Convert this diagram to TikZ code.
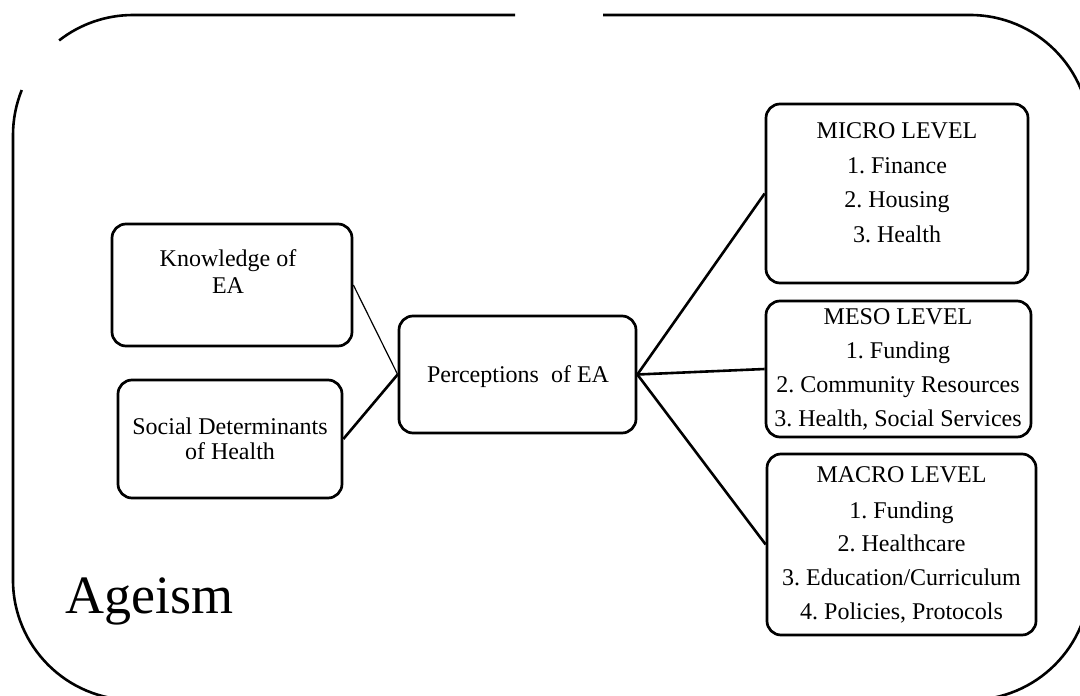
\documentclass[tikz,border=0pt]{standalone}
\usepackage{fontspec}
\setmainfont{Liberation Serif}
\frenchspacing
\begin{document}
\begin{tikzpicture}[x=1pt,y=-1pt,
  box/.style={draw,line width=2.7pt,rounded corners=14pt,inner sep=0pt},
  txt/.style={anchor=base,inner sep=0pt,font=\fontsize{24}{28}\selectfont},
  conn/.style={line width=2.6pt},
  thinconn/.style={line width=1.2pt},
  outer/.style={line width=2.6pt}]
\useasboundingbox (0,0) rectangle (1080,696);
\clip (0,0) rectangle (1080,696);
% outer frame
\draw[outer] (515,15) -- (133,15) arc[start angle=270,end angle=232,radius=120];
\draw[outer] (603,15) -- (970,15) arc[start angle=-90,end angle=0,radius=120]
  -- (1090,580) arc[start angle=0,end angle=90,radius=120]
  -- (133,700) arc[start angle=90,end angle=180,radius=120]
  -- (13,135) arc[start angle=180,end angle=202,radius=120];
% boxes
\node[box,minimum width=240pt,minimum height=122pt] (know) at (232,285) {};
\node[box,minimum width=224pt,minimum height=118pt] (social) at (230,439) {};
\node[box,minimum width=237pt,minimum height=117pt] (perc) at (517.5,374.5) {};
\node[box,minimum width=262pt,minimum height=179pt] (micro) at (897,193.5) {};
\node[box,minimum width=265pt,minimum height=136pt] (meso) at (898.5,369) {};
\node[box,minimum width=269pt,minimum height=181pt] (macro) at (901.5,544.5) {};
% texts
\node[txt] (know1) at (228,266) {Knowledge of};
\node[txt] (know2) at (228,293) {EA};
\node[txt] (soc1) at (230,434) {Social Determinants};
\node[txt] (soc2) at (230,459) {of Health};
\node[txt] (perct) at (518,382) {Perceptions~ of EA};
\node[txt] (mi1) at (897,138) {MICRO LEVEL};
\node[txt] (mi2) at (897,173) {1. Finance};
\node[txt] (mi3) at (897,207) {2. Housing};
\node[txt] (mi4) at (897,242) {3. Health};
\node[txt] (me1) at (898,324) {MESO LEVEL};
\node[txt] (me2) at (898,358) {1. Funding};
\node[txt] (me3) at (898,392) {2. Community Resources};
\node[txt] (me4) at (898,426) {3. Health, Social Services};
\node[txt] (ma1) at (901.5,482) {MACRO LEVEL};
\node[txt] (ma2) at (901.5,518) {1. Funding};
\node[txt] (ma3) at (901.5,551) {2. Healthcare};
\node[txt] (ma4) at (901.5,585) {3. Education/Curriculum};
\node[txt] (ma5) at (901.5,619) {4. Policies, Protocols};
\node[anchor=base west,inner sep=0pt,font=\fontsize{54}{60}\selectfont] (ageism) at (65,613) {Ageism};
% connectors
\draw[thinconn] (know.east) -- (perc.west);
\draw[conn] (social.east) -- (perc.west);
\draw[conn] (perc.east) -- (micro.west);
\draw[conn] (perc.east) -- (meso.west);
\draw[conn] (perc.east) -- (macro.west);
\end{tikzpicture}
\end{document}
